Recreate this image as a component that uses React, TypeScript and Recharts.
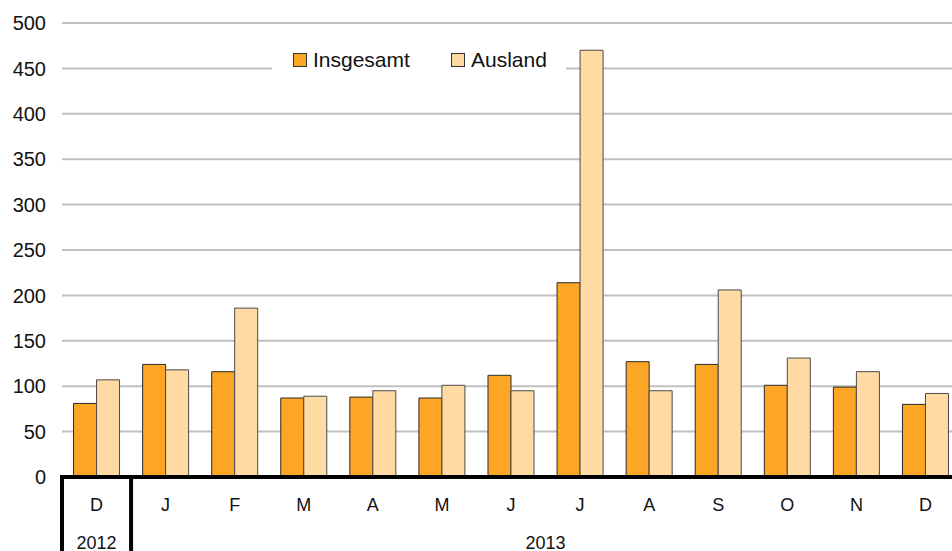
import React from 'react';
import { BarChart, Bar, XAxis, YAxis, CartesianGrid, Legend } from 'recharts';

const months = ['D', 'J', 'F', 'M', 'A', 'M', 'J', 'J', 'A', 'S', 'O', 'N', 'D'];
const insgesamt = [81, 124, 116, 87, 88, 87, 112, 214, 127, 124, 101, 99, 80];
const ausland = [107, 118, 186, 89, 95, 101, 95, 470, 95, 206, 131, 116, 92];
const yTicks = [0, 50, 100, 150, 200, 250, 300, 350, 400, 450, 500];
const seriesNames = ['Insgesamt', 'Ausland'];
const colors = ['#FDA625', '#FFDBA3'];

const data = months.map((m, i) => ({ key: `${i}`, m, a: insgesamt[i], b: ausland[i] }));

const FONT = '"Liberation Sans", Arial, sans-serif';

const MonthTick = (props: any) => {
  const { x, y, payload } = props;
  return (
    <text x={x} y={y + 26} textAnchor="middle" fontSize={18} fontFamily={FONT} fill="#111">
      {months[payload.index]}
    </text>
  );
};

const YearTick = (props: any) => {
  const { x, y, payload } = props;
  const half = typeof payload.offset === 'number' && payload.offset > 3 ? payload.offset : 34.5;
  const idx = payload.index;
  const items: any[] = [];
  if (idx === 0 || idx === 1) {
    items.push(<line key="l" x1={x - half} x2={x - half} y1={y - 42} y2={y + 40} stroke="#000" strokeWidth={4} />);
  }
  if (idx === 0) {
    items.push(<text key="t" x={x} y={y + 32} textAnchor="middle" fontSize={18} fontFamily={FONT} fill="#111">2012</text>);
  }
  if (idx === 6) {
    items.push(<text key="t" x={x + half} y={y + 32} textAnchor="middle" fontSize={18} fontFamily={FONT} fill="#111">2013</text>);
  }
  return <g>{items}</g>;
};

const LegendContent = () => (
  <div style={{ display: 'flex', alignItems: 'center', height: 32, paddingLeft: 21, fontFamily: FONT, fontSize: 21, color: '#111', background: '#fff' }}>
    {seriesNames.map((n, i) => (
      <div key={n} style={{ display: 'flex', alignItems: 'center', width: i === 0 ? 158 : 'auto' }}>
        <span style={{ display: 'inline-block', width: 12, height: 12, background: colors[i], border: '1px solid #333', marginRight: 6 }} />
        <span>{n}</span>
      </div>
    ))}
  </div>
);

export default function App() {
  return (
    <div style={{ position: 'absolute', left: 0, top: 0, width: 952, height: 551, overflow: 'hidden', background: '#fff' }}>
      <BarChart
        width={970}
        height={551}
        data={data}
        margin={{ top: 23, right: 10, left: 0, bottom: 0 }}
        barCategoryGap="16.7%"
        barGap={0}
      >
        <CartesianGrid horizontal vertical={false} stroke="#c0c0c0" strokeWidth={2} />
        <YAxis
          domain={[0, 500]}
          ticks={yTicks}
          width={62}
          axisLine={false}
          tickLine={false}
          tickSize={0}
          tickMargin={16}
          interval={0}
          tick={{ fontSize: 20, fontFamily: FONT, fill: '#111' }}
        />
        <XAxis
          dataKey="key"
          interval={0}
          height={40}
          tickLine={false}
          tickSize={0}
          tickMargin={8}
          axisLine={{ stroke: '#000', strokeWidth: 4 }}
          tick={<MonthTick />}
        />
        <XAxis
          xAxisId="year"
          dataKey="key"
          interval={0}
          height={34}
          tickLine={false}
          axisLine={false}
          tickSize={0}
          tickMargin={0}
          tick={<YearTick />}
        />
        <Legend
          layout="horizontal"
          verticalAlign="middle"
          align="center"
          wrapperStyle={{ left: 272, top: 44, width: 294, height: 32 }}
          content={<LegendContent />}
        />
        <Bar dataKey="a" name={seriesNames[0]} fill={colors[0]} stroke="#2a2a2a" strokeWidth={1} isAnimationActive={false} />
        <Bar dataKey="b" name={seriesNames[1]} fill={colors[1]} stroke="#4a4a4a" strokeWidth={1} isAnimationActive={false} />
      </BarChart>
    </div>
  );
}
